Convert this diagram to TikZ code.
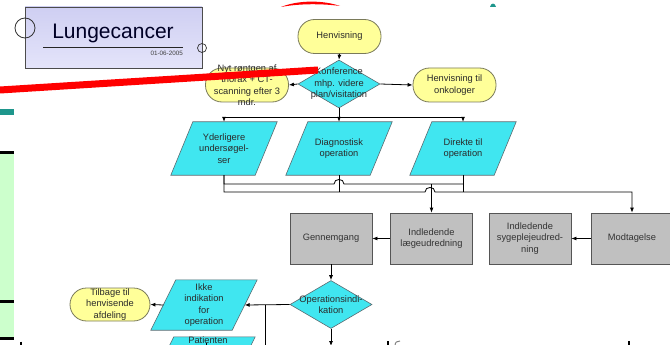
\documentclass[tikz,border=0pt]{standalone}
\usepackage{fontspec}
\setmainfont{Liberation Sans}
\usetikzlibrary{shapes.geometric,arrows.meta,backgrounds,calc}
\definecolor{termfill}{HTML}{FFFF99}
\definecolor{termdraw}{HTML}{7A7A5A}
\definecolor{cyanfill}{HTML}{40E6F0}
\definecolor{cyandraw}{HTML}{5A6A70}
\definecolor{boxgray}{HTML}{C0C0C0}
\definecolor{boxdraw}{HTML}{555555}
\definecolor{panelgreen}{HTML}{CCFFCC}
\definecolor{tealbar}{HTML}{1E968C}
\definecolor{lavtop}{HTML}{CFCFF2}
\definecolor{lavbot}{HTML}{E4E4FA}
\definecolor{txtdark}{HTML}{2A2A2A}
\begin{document}
\begin{tikzpicture}[x=1pt,y=-1pt,
  txt/.style={font=\fontsize{9.3}{11.5}\selectfont, align=center, text=txtdark, inner sep=0},
  term/.style={draw=termdraw, fill=termfill, rounded corners=16.5pt, minimum width=83pt, minimum height=34pt, inner sep=0, line width=0.8pt},
  diam/.style={diamond, draw=cyandraw, fill=cyanfill, minimum width=82pt, minimum height=48pt, inner sep=0, line width=0.6pt},
  gbox/.style={draw=boxdraw, fill=boxgray, minimum width=82pt, minimum height=51pt, inner sep=0, line width=0.8pt, txt, text=black!80},
  para/.style={minimum width=84pt, minimum height=53pt, inner sep=0, txt},
  parafill/.style={draw=cyandraw, fill=cyanfill, line width=0.6pt},
  conn/.style={draw=black, line width=0.8pt},
  arr/.style={conn, -{Latex[length=5pt,width=4pt]}}
]
\useasboundingbox (0,0) rectangle (670,345);

% left decorations
\fill[tealbar] (0,109) rectangle (14,115);
\fill[panelgreen] (0,152) rectangle (14,338);
\fill[black] (0,151) rectangle (14,153.5);
\fill[black] (0,300) rectangle (14,302.5);
\fill[black] (0,337) rectangle (14,339.5);

% title box
\node[draw=gray!60!black, top color=lavtop, bottom color=lavbot, minimum width=177pt, minimum height=61pt, inner sep=0, line width=0.9pt] (title) at (113.5,37.5) {};
\node[circle, draw=gray!40!black, minimum size=20pt, inner sep=0, line width=0.8pt] (c1) at (25,28) {};
\node[circle, draw=gray!40!black, minimum size=9pt, inner sep=0, line width=0.7pt] (c2) at (202,48) {};
\node[font=\fontsize{21}{21}\selectfont, text=black!85!blue, inner sep=0] (ttl) at (113,33) {Lungecancer};
\draw[gray!30!black, line width=1pt] (43,48) -- (183,48);
\node[anchor=east, font=\fontsize{6.3}{7}\selectfont, text=black!75, inner sep=0] (date) at (183,53.5) {01-06-2005};

% top part
\node[term] (henv) at (339.5,36.5) {};
\node[txt] at (henv) {Henvisning};
\node[diam] (konf) at (339,84) {};
\node[txt] at (konf) {Konference\\mhp. videre\\plan/visitation};
\node[term] (nyt) at (247,85) {};
\node[txt] at (nyt) {Nyt røntgen af\\thorax + CT-\\scanning efter 3\\mdr.};
\node[term] (onk) at (454.5,85) {};
\node[txt] at (onk) {Henvisning til\\onkologer};

\draw[arr] (henv.south) -- (konf.north);
\draw[arr] (konf.west) -- (nyt.east);
\draw[arr] (konf.east) -- (onk.west);

% parallelograms row
\node[para] (yd) at (224,148.5) {Yderligere\\undersøgel-\\ser};
\node[para] (diag) at (339,148.5) {Diagnostisk\\operation};
\node[para] (dir) at (463,148.5) {Direkte til\\operation};

\draw[conn] (konf.south) -- (339,117) coordinate (split);
\draw[arr] (split) -| (yd.north);
\draw[arr] (split) -- (diag.north);
\draw[arr] (split) -| (dir.north);

% gray boxes
\node[gbox] (gen) at (331,238.5) {Gennemgang};
\node[gbox] (lae) at (431.5,238.5) {Indledende\\lægeudredning};
\node[gbox] (syg) at (530,238.5) {Indledende\\sygeplejeudred-\\ning};
\node[gbox] (modt) at (632,238.5) {Modtagelse};

% merge lines
\draw[conn] (yd.south) |- (334,184) .. controls (334,178) and (344,178) .. (344,184) -- (dir.south |- 0,184);
\draw[arr] (yd.south) |- (425,192) .. controls (425,186) and (435,186) .. (435,192) -| (modt.north);
\draw[conn] (diag.south) -- (diag.south |- 0,192);
\draw[conn] (dir.south) -- (dir.south |- 0,192);
\draw[arr] (lae.north |- 0,184) -- (lae.north);

\draw[arr] (modt.west) -- (syg.east);
\draw[arr] (lae.west) -- (gen.east);

% lower part
\node[diam] (opi) at (331,304.5) {};
\node[txt] at (opi) {Operationsindi-\\kation};
\draw[arr] (gen.south) -- (opi.north);

\node[para, minimum width=81pt, minimum height=50pt] (ikke) at (204,305) {Ikke\\indikation\\for\\operation};
\node[term, minimum width=80pt, minimum height=33pt] (tilb) at (110,304.5) {};
\node[txt] at (tilb) {Tilbage til\\henvisende\\afdeling};
\draw[arr] (opi.west) -- (ikke.east);
\draw[arr] (ikke.west) -- (tilb.east);
\draw[conn] (opi.west -| 265,0) -- (265,350);
\draw[arr] (opi.south) -- (331,346);

\node[minimum width=81pt, minimum height=50pt, inner sep=0] (pat) at (202,362) {};
\node[txt, anchor=north] (pattxt) at (208,336.5) {Patienten};

% parallelogram shapes behind
\begin{scope}[on background layer]
\foreach \n/\s in {yd/11,diag/11,dir/11,ikke/12.5,pat/12.5}
  \draw[parafill] ($(\n.south west)+(-\s,0)$) -- ($(\n.south east)+(-\s,0)$) -- ($(\n.north east)+(\s,0)$) -- ($(\n.north west)+(\s,0)$) -- cycle;
\end{scope}

% bottom fragments
\draw[black, line width=1.2pt] (21,341.5) -- (21,346);
\draw[black, line width=1pt] (206,342.5) -- (206,346);
\draw[black, line width=1.2pt] (388,341) -- (388,346);
\draw[gray, line width=1pt] (395,346) .. controls (395,342) and (397,341) .. (400,341);
\draw[black, line width=1.2pt] (629,341) -- (629,346);

% red overlay strokes
\draw[red, line width=7pt] (0,90) -- (318,70);
\fill[red] (281,7) .. controls (298,0) and (323,0) .. (340,6) .. controls (322,3.5) and (299,3.5) .. cycle;
\fill[tealbar] (490,7) .. controls (491,2.5) and (495,2.5) .. (496,7) -- cycle;
\end{tikzpicture}
\end{document}
